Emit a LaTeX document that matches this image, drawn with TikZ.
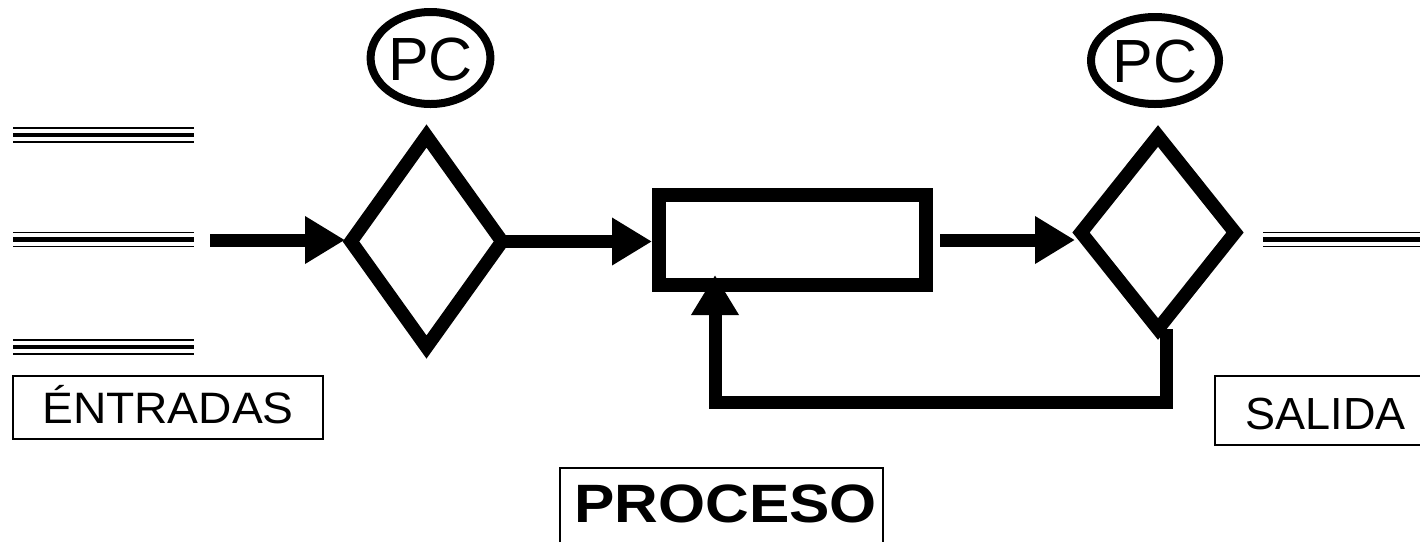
\documentclass[tikz,border=0pt]{standalone}
\usepackage{fontspec}
\usepackage{graphicx}
\setmainfont{Liberation Sans}
\usetikzlibrary{shapes.geometric,arrows.meta}
\begin{document}
\begin{tikzpicture}[x=1pt,y=-1pt,
  flow/.style={line width=13pt,-{Triangle[length=40pt,width=45pt]}},
  decision/.style={diamond,draw,line width=13.5pt,inner sep=0pt,outer sep=0pt},
  pcmark/.style={ellipse,draw,line width=8pt,inner sep=0pt,outer sep=0pt,
    font=\fontsize{61}{61}\selectfont,text height=44pt,text depth=0pt},
  procbox/.style={rectangle,draw,line width=14pt,inner sep=0pt,outer sep=0pt,
    minimum width=267pt,minimum height=90pt},
  labelbox/.style={rectangle,draw,line width=1.2pt,inner sep=0pt,text depth=0pt},
  labeltext/.style={inner sep=0pt,text depth=0pt},
  boxline/.style={line width=1.2pt},
  thinrule/.style={line width=1.3pt},
  thickrule/.style={line width=4.5pt},
]
\useasboundingbox (0,0) rectangle (1420,542);
\clip (0,0) rectangle (1420,542);
\fill[white] (0,0) rectangle (1420,542);

% input / output rules
\foreach \yy in {135,239.5,347}{
  \draw[thinrule] (13,\yy-7) -- (194,\yy-7);
  \draw[thickrule] (13,\yy) -- (194,\yy);
  \draw[thinrule] (13,\yy+7) -- (194,\yy+7);
}
\draw[thinrule] (1263,232.5) -- (1420,232.5);
\draw[thickrule] (1263,239.5) -- (1420,239.5);
\draw[thinrule] (1263,246.5) -- (1420,246.5);

% nodes
\node[pcmark,minimum width=117pt,minimum height=92pt] (pc1) at (430.5,58) {PC};
\node[pcmark,minimum width=128pt,minimum height=87pt] (pc2) at (1155,60.5) {PC};
\node[decision,minimum width=151pt,minimum height=211pt] (d1) at (426.5,241.5) {};
\node[decision,minimum width=154pt,minimum height=193pt] (d2) at (1158,232.5) {};
\node[procbox] (rect) at (792.5,240) {};

\node[labelbox,minimum width=310pt,minimum height=63pt,
  font=\fontsize{44}{44}\selectfont,text height=31.5pt] (ent) at (168,407.5) {\scalebox{1.05}[1]{ÉNTRADAS}};

\node[labeltext,font=\fontsize{45}{45}\selectfont,text height=32.2pt] (sal) at (1325.5,413) {SALIDA};
\draw[boxline] (1420,376) -- (1215,376) -- (1215,445) -- (1420,445);

\node[labeltext,font=\fontsize{54}{54}\selectfont\bfseries,text height=38.5pt]
  (proc) at (725.5,503.5) {\scalebox{1.12}[1]{PROCESO}};
\draw[boxline] (560,542) -- (560,468) -- (883,468) -- (883,542);

% connectors
\coordinate (a1) at (210,240);
\draw[flow,shorten >=6pt] (a1) -- (a1 -| d1.west);
\draw[flow,shorten >=7pt] (d1.east) -- (d1.east -| rect.west);
\draw[flow,shorten <=14pt,shorten >=6pt] (rect.east) -- (rect.east -| d2.west);
\coordinate (fb1) at (1166,402);
\coordinate (fb2) at (715,402);
\draw[flow,shorten >=-10pt] (d2.south -| fb1) -- (fb1) -- (fb2) -- (fb2 |- rect.south);
\end{tikzpicture}
\end{document}
